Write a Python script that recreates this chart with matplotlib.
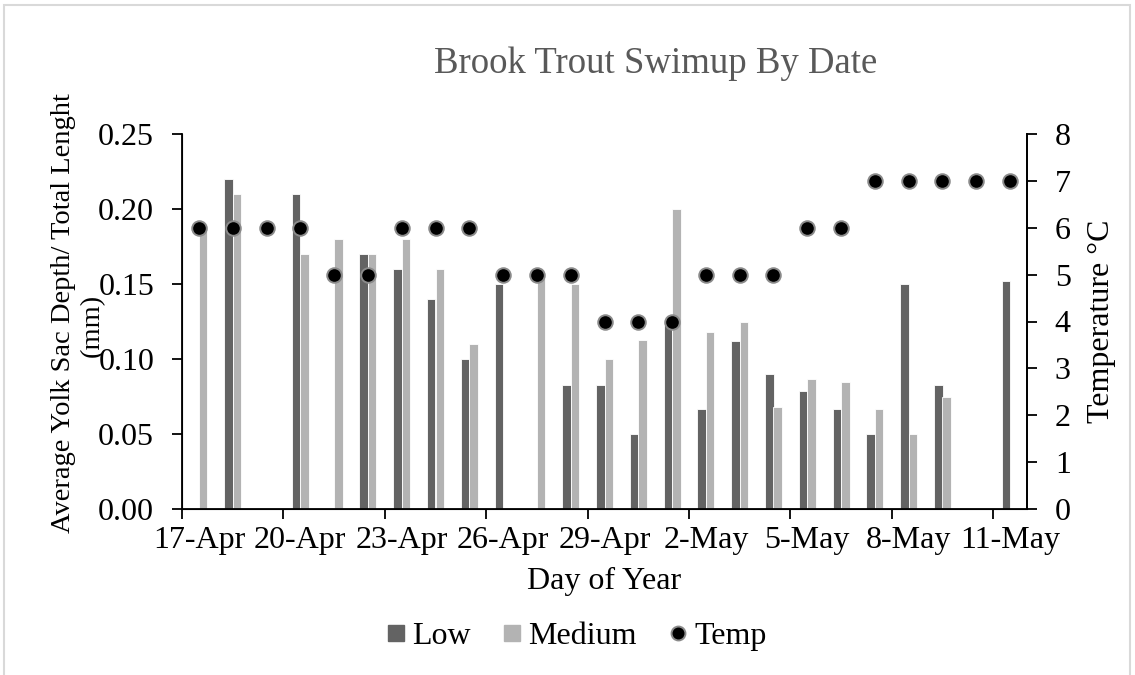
import numpy as np
import matplotlib
matplotlib.use("Agg")
import matplotlib.pyplot as plt
from matplotlib.lines import Line2D
from matplotlib.patches import Rectangle

plt.rcParams['font.family'] = ['Liberation Serif', 'DejaVu Serif']

days = ["17-Apr", "18-Apr", "19-Apr", "20-Apr", "21-Apr", "22-Apr", "23-Apr",
        "24-Apr", "25-Apr", "26-Apr", "27-Apr", "28-Apr", "29-Apr", "30-Apr",
        "1-May", "2-May", "3-May", "4-May", "5-May", "6-May", "7-May",
        "8-May", "9-May", "10-May", "11-May"]
nan = np.nan
low = [nan, 0.22, nan, 0.21, nan, 0.17, 0.16, 0.14, 0.10, 0.15, nan, 0.083,
       0.083, 0.05, 0.125, 0.067, 0.112, 0.09, 0.079, 0.067, 0.05, 0.15,
       0.083, nan, 0.152]
medium = [0.19, 0.21, nan, 0.17, 0.18, 0.17, 0.18, 0.16, 0.11, nan, 0.155,
          0.15, 0.10, 0.113, 0.20, 0.118, 0.125, 0.068, 0.087, 0.085, 0.067,
          0.05, 0.075, nan, nan]
temp = [6, 6, 6, 6, 5, 5, 6, 6, 6, 5, 5, 5, 4, 4, 4, 5, 5, 5, 6, 6,
        7, 7, 7, 7, 7]
tick_labels = ["17-Apr", "20-Apr", "23-Apr", "26-Apr", "29-Apr", "2-May",
               "5-May", "8-May", "11-May"]

low_c = "#636363"
med_c = "#b3b3b3"

fig = plt.figure(figsize=(11.35, 6.75), dpi=100)
ax = fig.add_axes([182/1135, 1-509/675, (1027-182)/1135, (509-134)/675])

x = np.arange(len(days))
w = 0.25
ax.bar(x - w/2, low, w, color=low_c, edgecolor="white", linewidth=0.6, zorder=2)
ax.bar(x + w/2, medium, w, color=med_c, edgecolor="white", linewidth=0.6, zorder=2)

ax.set_xlim(-0.5, len(days) - 0.5)
ax.set_ylim(0, 0.25)
ax.set_yticks(np.arange(0, 0.251, 0.05))
ax.set_yticklabels([f"{v:.2f}" for v in np.arange(0, 0.251, 0.05)])
ax.set_xticks(x[::3])
ax.set_xticklabels(tick_labels)
ax.set_xticks(np.arange(-0.5, len(days), 3), minor=True)
ax.tick_params(axis='x', which='major', length=0, pad=12, labelsize=23)
ax.tick_params(axis='x', which='minor', length=7, width=1.3, direction='out')
ax.tick_params(axis='y', length=7, width=1.3, direction='out', pad=13, labelsize=23)

for s in ['left', 'bottom', 'right']:
    ax.spines[s].set_linewidth(1.3)
ax.spines['top'].set_visible(False)

ax.set_xlabel("Day of Year", fontsize=23, labelpad=9)

# y label is wrapped by Excel into two lines; the second one sits on the ticks
fig.text(64/1135, 1-313/675, "Average Yolk Sac Depth/ Total Lenght",
         fontsize=20.5, rotation=90, ha='center', va='center')
fig.text(92/1135, 1-325/675, "(mm)", fontsize=20.5, rotation=90,
         ha='center', va='center')

ax2 = ax.twinx()
ax2.set_ylim(0, 8)
ax2.set_yticks(range(0, 9))
ax2.plot(x, temp, linestyle='none', marker='o', markersize=10.5,
         markerfacecolor='black', markeredgecolor='#8a8a8a',
         markeredgewidth=1.4, zorder=3)
ax2.tick_params(axis='y', length=7, width=1.3, direction='out', pad=13, labelsize=23)
ax2.spines['top'].set_visible(False)
ax2.spines['right'].set_linewidth(1.3)
ax2.set_ylabel("Temperature °C", fontsize=23, labelpad=12)

fig.text(656/1135, 1-64/675, "Brook Trout Swimup By Date", fontsize=26.5,
         color="#595959", ha='center', va='center')

handles = [
    Line2D([], [], linestyle='none', marker='s', markersize=12,
           markerfacecolor=low_c, markeredgecolor=low_c),
    Line2D([], [], linestyle='none', marker='s', markersize=12,
           markerfacecolor=med_c, markeredgecolor=med_c),
    Line2D([], [], linestyle='none', marker='o', markersize=10,
           markerfacecolor='black', markeredgecolor='#8a8a8a', markeredgewidth=1.4),
]
fig.legend(handles, ["Low", "Medium", "Temp"], loc='center',
           bbox_to_anchor=(575/1135, 1-636/675), ncol=3, frameon=False,
           fontsize=23, handlelength=0.8, handletextpad=0.1, columnspacing=0.9)

fig.patches.append(Rectangle((4/1135, -0.05), 1126/1135, 1.05 - 5/675,
                             transform=fig.transFigure, fill=False,
                             edgecolor="#d9d9d9", linewidth=1.5))

fig.savefig("out.png", dpi=100)
